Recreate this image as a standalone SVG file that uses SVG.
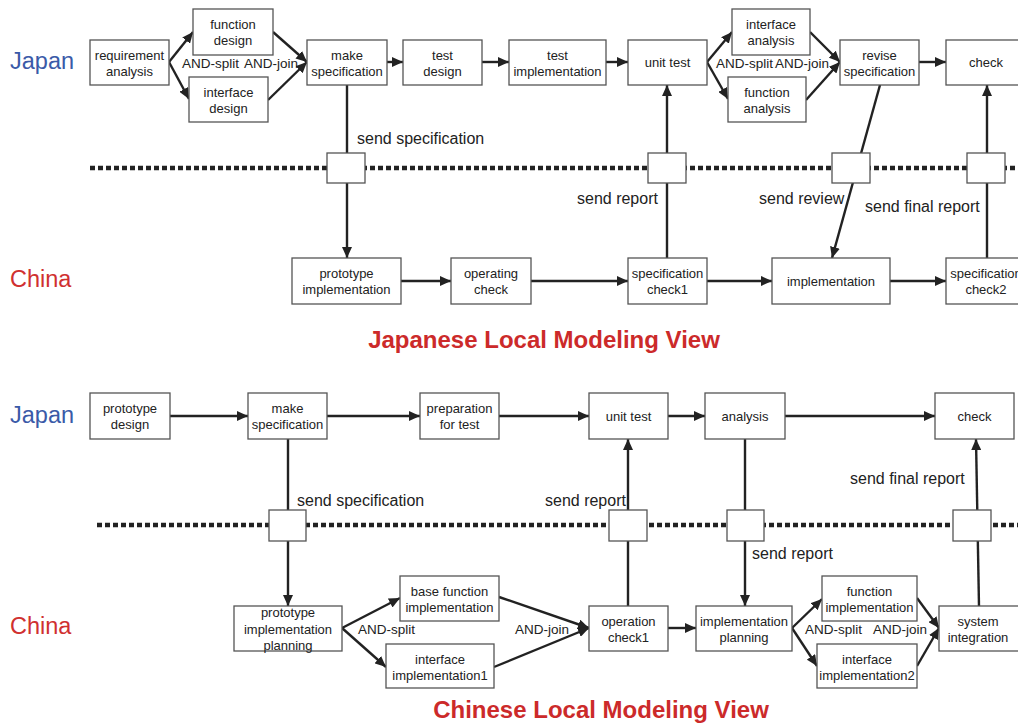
<svg xmlns="http://www.w3.org/2000/svg" width="1018" height="723" viewBox="0 0 1018 723">
<style>
.box{fill:#fff;stroke:#555;stroke-width:1.3}
.sq{fill:#fff;stroke:#555;stroke-width:1.3}
.t{font-family:"Liberation Sans",Arial,sans-serif;font-size:13px;fill:#222;text-anchor:middle}
.lbl{font-family:"Liberation Sans",Arial,sans-serif;font-size:16px;fill:#222}
.and{font-family:"Liberation Sans",Arial,sans-serif;font-size:13.5px;fill:#222}
.jp{font-family:"Liberation Sans",Arial,sans-serif;font-size:23.5px;fill:#3a5aa8}
.cn{font-family:"Liberation Sans",Arial,sans-serif;font-size:23.5px;fill:#d03030}
.title{font-family:"Liberation Sans",Arial,sans-serif;font-size:24px;font-weight:bold;fill:#cc2a2a;text-anchor:middle}
.dot{stroke:#222;stroke-width:4.5;stroke-dasharray:5 3;fill:none}
.c{stroke:#222;stroke-width:2.4;fill:none;marker-end:url(#ah)}
.cn0{stroke:#222;stroke-width:2.4;fill:none}
</style>
<defs>
<marker id="ah" markerUnits="userSpaceOnUse" markerWidth="12" markerHeight="10" refX="11" refY="5" orient="auto">
<path d="M0,0 L11,5 L0,10 z" fill="#222"/>
</marker>
</defs>
<rect width="1018" height="723" fill="#fff"/>

<!-- lane labels and titles -->
<text class="jp" x="10" y="69">Japan</text>
<text class="cn" x="10" y="287">China</text>
<text class="title" x="544" y="348">Japanese Local Modeling View</text>
<text class="jp" x="10" y="423">Japan</text>
<text class="cn" x="10" y="634">China</text>
<text class="title" x="601" y="718">Chinese Local Modeling View</text>

<!-- boundary lines -->
<line class="dot" x1="90" y1="168" x2="1018" y2="168"/>
<line class="dot" x1="97" y1="525" x2="1018" y2="525"/>

<g id="connectors">
<!-- top Japan -->
<line class="c" x1="169" y1="62" x2="193" y2="32"/>
<line class="c" x1="169" y1="62" x2="189" y2="99"/>
<line class="c" x1="273" y1="32" x2="307" y2="62"/>
<line class="c" x1="268" y1="100" x2="307" y2="62"/>
<line class="c" x1="387" y1="62" x2="403" y2="62"/>
<line class="c" x1="482" y1="62" x2="509" y2="62"/>
<line class="c" x1="606" y1="62" x2="628" y2="62"/>
<line class="c" x1="707" y1="62" x2="732" y2="32"/>
<line class="c" x1="707" y1="62" x2="728" y2="99"/>
<line class="c" x1="810" y1="32" x2="840" y2="62"/>
<line class="c" x1="806" y1="100" x2="840" y2="62"/>
<line class="c" x1="919" y1="62" x2="946" y2="62"/>
<!-- top China -->
<line class="c" x1="401" y1="281" x2="451" y2="281"/>
<line class="c" x1="531" y1="281" x2="628" y2="281"/>
<line class="c" x1="707" y1="281" x2="772" y2="281"/>
<line class="c" x1="890" y1="281" x2="946" y2="281"/>
<!-- top cross -->
<line class="c" x1="347" y1="85" x2="347" y2="258"/>
<line class="c" x1="667" y1="258" x2="667" y2="85"/>
<line class="c" x1="880" y1="85" x2="832" y2="258"/>
<line class="c" x1="987" y1="258" x2="987" y2="85"/>
<!-- bottom Japan -->
<line class="c" x1="170" y1="416" x2="248" y2="416"/>
<line class="c" x1="327" y1="416" x2="420" y2="416"/>
<line class="c" x1="499" y1="416" x2="589" y2="416"/>
<line class="c" x1="668" y1="416" x2="705" y2="416"/>
<line class="c" x1="785" y1="416" x2="935" y2="416"/>
<!-- bottom cross -->
<line class="c" x1="288" y1="439" x2="288" y2="606"/>
<line class="c" x1="628" y1="606" x2="628" y2="439"/>
<line class="c" x1="745" y1="439" x2="745" y2="606"/>
<line class="c" x1="979" y1="606" x2="976" y2="439"/>
<!-- bottom China -->
<line class="c" x1="342" y1="628" x2="400" y2="598"/>
<line class="c" x1="342" y1="628" x2="386" y2="667"/>
<line class="c" x1="499" y1="597" x2="589" y2="628"/>
<line class="c" x1="494" y1="667" x2="589" y2="628"/>
<line class="c" x1="668" y1="628" x2="696" y2="628"/>
<line class="c" x1="792" y1="628" x2="822" y2="599"/>
<line class="c" x1="792" y1="628" x2="817" y2="666"/>
<line class="c" x1="917" y1="598" x2="939" y2="628"/>
<line class="c" x1="917" y1="666" x2="939" y2="628"/>
</g>

<!-- connector labels -->
<text class="and" x="182" y="68">AND-split</text>
<text class="and" x="244" y="68">AND-join</text>
<text class="and" x="716" y="68">AND-split</text>
<text class="and" x="775" y="68">AND-join</text>
<text class="lbl" x="357" y="144">send specification</text>
<text class="lbl" x="577" y="204">send report</text>
<text class="lbl" x="759" y="204">send review</text>
<text class="lbl" x="865" y="212">send final report</text>
<text class="lbl" x="297" y="506">send specification</text>
<text class="lbl" x="545" y="506">send report</text>
<text class="lbl" x="752" y="559">send report</text>
<text class="lbl" x="850" y="484">send final report</text>
<text class="and" x="358" y="634">AND-split</text>
<text class="and" x="515" y="634">AND-join</text>
<text class="and" x="805" y="634">AND-split</text>
<text class="and" x="873" y="634">AND-join</text>

<!-- message squares -->
<g id="msg1"><rect class="sq" x="327" y="153" width="38" height="30"/></g>
<g id="msg2"><rect class="sq" x="648" y="153" width="38" height="30"/></g>
<g id="msg3"><rect class="sq" x="832" y="153" width="38" height="30"/></g>
<g id="msg4"><rect class="sq" x="967" y="153" width="38" height="30"/></g>
<g id="msg5"><rect class="sq" x="269" y="510" width="37" height="31"/></g>
<g id="msg6"><rect class="sq" x="609" y="510" width="38" height="31"/></g>
<g id="msg7"><rect class="sq" x="727" y="510" width="37" height="31"/></g>
<g id="msg8"><rect class="sq" x="953" y="510" width="38" height="31"/></g>

<!-- top Japan nodes -->
<g id="req"><rect class="box" x="90" y="40" width="79" height="45"/><text class="t" x="129.5" y="60">requirement</text><text class="t" x="129.5" y="76">analysis</text></g>
<g id="fd"><rect class="box" x="193" y="9" width="80" height="46"/><text class="t" x="233" y="29">function</text><text class="t" x="233" y="45">design</text></g>
<g id="idz"><rect class="box" x="189" y="77" width="79" height="45"/><text class="t" x="228.5" y="97">interface</text><text class="t" x="228.5" y="113">design</text></g>
<g id="ms"><rect class="box" x="307" y="40" width="80" height="45"/><text class="t" x="347" y="60">make</text><text class="t" x="347" y="76">specification</text></g>
<g id="td"><rect class="box" x="403" y="40" width="79" height="45"/><text class="t" x="442.5" y="60">test</text><text class="t" x="442.5" y="76">design</text></g>
<g id="ti"><rect class="box" x="509" y="40" width="97" height="45"/><text class="t" x="557.5" y="60">test</text><text class="t" x="557.5" y="76">implementation</text></g>
<g id="ut"><rect class="box" x="628" y="40" width="79" height="45"/><text class="t" x="667.5" y="67">unit test</text></g>
<g id="ia"><rect class="box" x="732" y="9" width="78" height="46"/><text class="t" x="771" y="29">interface</text><text class="t" x="771" y="45">analysis</text></g>
<g id="fa"><rect class="box" x="728" y="77" width="78" height="45"/><text class="t" x="767" y="97">function</text><text class="t" x="767" y="113">analysis</text></g>
<g id="rs"><rect class="box" x="840" y="40" width="79" height="45"/><text class="t" x="879.5" y="60">revise</text><text class="t" x="879.5" y="76">specification</text></g>
<g id="ck"><rect class="box" x="946" y="40" width="80" height="45"/><text class="t" x="986" y="67">check</text></g>

<!-- top China nodes -->
<g id="pi"><rect class="box" x="292" y="258" width="109" height="46"/><text class="t" x="346.5" y="278">prototype</text><text class="t" x="346.5" y="294">implementation</text></g>
<g id="oc"><rect class="box" x="451" y="258" width="80" height="46"/><text class="t" x="491" y="278">operating</text><text class="t" x="491" y="294">check</text></g>
<g id="sc1"><rect class="box" x="628" y="258" width="79" height="46"/><text class="t" x="667.5" y="278">specification</text><text class="t" x="667.5" y="294">check1</text></g>
<g id="im"><rect class="box" x="772" y="258" width="118" height="46"/><text class="t" x="831" y="286">implementation</text></g>
<g id="sc2"><rect class="box" x="946" y="258" width="80" height="46"/><text class="t" x="986" y="278">specification</text><text class="t" x="986" y="294">check2</text></g>

<!-- bottom Japan nodes -->
<g id="pd"><rect class="box" x="90" y="393" width="80" height="46"/><text class="t" x="130" y="413">prototype</text><text class="t" x="130" y="429">design</text></g>
<g id="ms2"><rect class="box" x="248" y="393" width="79" height="46"/><text class="t" x="287.5" y="413">make</text><text class="t" x="287.5" y="429">specification</text></g>
<g id="pt"><rect class="box" x="420" y="393" width="79" height="46"/><text class="t" x="459.5" y="413">preparation</text><text class="t" x="459.5" y="429">for test</text></g>
<g id="ut2"><rect class="box" x="589" y="393" width="79" height="46"/><text class="t" x="628.5" y="421">unit test</text></g>
<g id="an"><rect class="box" x="705" y="393" width="80" height="46"/><text class="t" x="745" y="421">analysis</text></g>
<g id="ck2"><rect class="box" x="935" y="393" width="79" height="46"/><text class="t" x="974.5" y="421">check</text></g>

<!-- bottom China nodes -->
<g id="pip"><rect class="box" x="234" y="606" width="108" height="45"/><text class="t" x="288" y="617">prototype</text><text class="t" x="288" y="634">implementation</text><text class="t" x="288" y="650">planning</text></g>
<g id="bfi"><rect class="box" x="400" y="576" width="99" height="45"/><text class="t" x="449.5" y="596">base function</text><text class="t" x="449.5" y="612">implementation</text></g>
<g id="ii1"><rect class="box" x="386" y="644" width="108" height="44"/><text class="t" x="440" y="664">interface</text><text class="t" x="440" y="680">implementation1</text></g>
<g id="oc1"><rect class="box" x="589" y="606" width="79" height="45"/><text class="t" x="628.5" y="626">operation</text><text class="t" x="628.5" y="642">check1</text></g>
<g id="ip"><rect class="box" x="696" y="606" width="96" height="45"/><text class="t" x="744" y="626">implementation</text><text class="t" x="744" y="642">planning</text></g>
<g id="fi"><rect class="box" x="822" y="576" width="95" height="45"/><text class="t" x="869.5" y="596">function</text><text class="t" x="869.5" y="612">implementation</text></g>
<g id="ii2"><rect class="box" x="817" y="644" width="100" height="44"/><text class="t" x="867" y="664">interface</text><text class="t" x="867" y="680">implementation2</text></g>
<g id="si"><rect class="box" x="939" y="606" width="82" height="45"/><text class="t" x="978" y="626">system</text><text class="t" x="978" y="642">integration</text></g>
</svg>
